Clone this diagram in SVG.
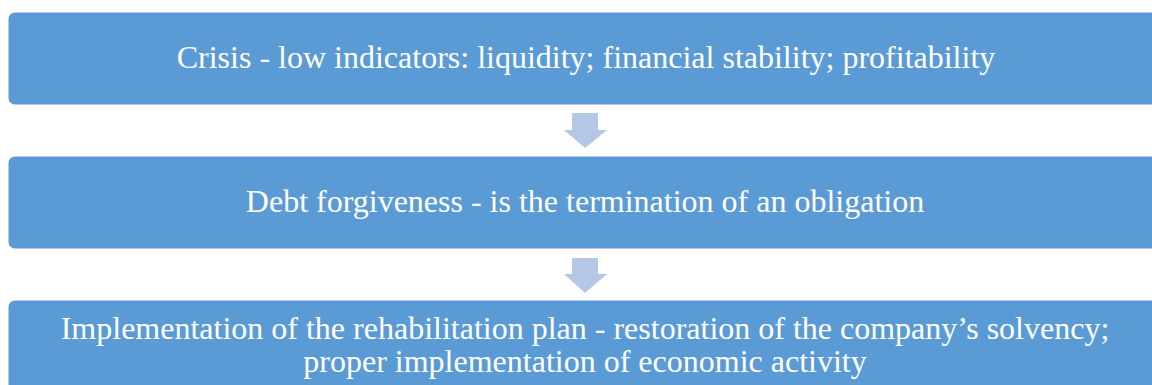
<svg xmlns="http://www.w3.org/2000/svg" width="1152" height="385" viewBox="0 0 1152 385">
  <style>
    .box { fill: #5B9BD5; stroke: #FFFFFF; stroke-width: 1; }
    .arrow { fill: #B4C7E7; }
    .label { font-family: "Liberation Serif", "Times New Roman", serif; font-size: 32px; fill: #FFFFFF; text-anchor: middle; }
  </style>
  <rect width="1152" height="385" fill="#FFFFFF"/>
  <g id="connectors">
    <path class="arrow" d="M572,113 H598 V130 H607 L585,148 L564,130 H572 Z"/>
    <path class="arrow" d="M572,258 H598 V274 H607 L585,293 L564,274 H572 Z"/>
  </g>
  <g id="node-crisis">
    <rect class="box" x="8" y="12" width="1160" height="93" rx="7"/>
    <text class="label" x="586" y="68">Crisis - low indicators: liquidity; financial stability; profitability</text>
  </g>
  <g id="node-debt">
    <rect class="box" x="8" y="156" width="1160" height="93" rx="7"/>
    <text class="label" x="585" y="212">Debt forgiveness - is the termination of an obligation</text>
  </g>
  <g id="node-rehab">
    <rect class="box" x="8" y="300" width="1160" height="100" rx="7"/>
    <text class="label" x="585" y="339">Implementation of the rehabilitation plan - restoration of the company’s solvency;</text>
    <text class="label" x="585" y="372">proper implementation of economic activity</text>
  </g>
</svg>
